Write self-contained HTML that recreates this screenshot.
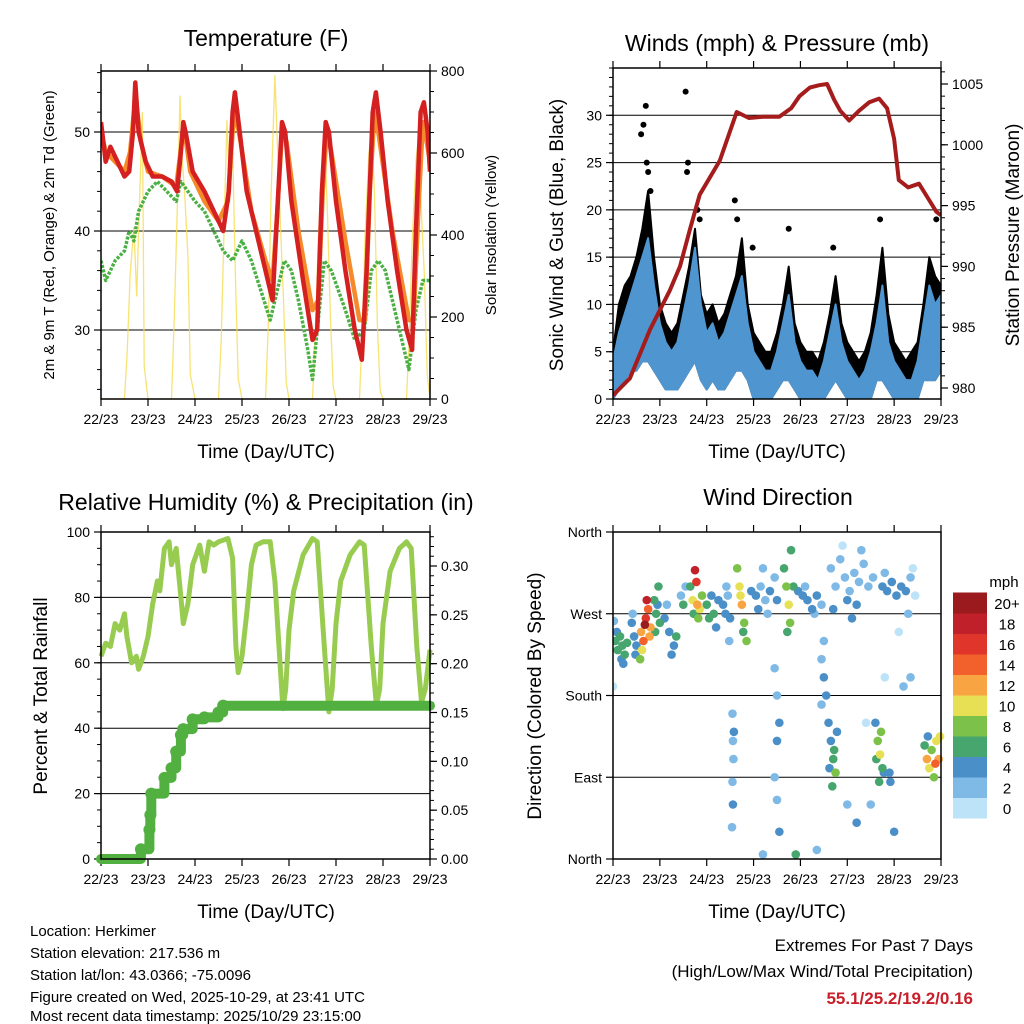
<!DOCTYPE html>
<html><head><meta charset="utf-8"><style>
html,body{margin:0;padding:0;background:#fff;}
svg{display:block;font-family:"Liberation Sans",Arial,sans-serif;}
</style></head><body>
<svg id="chart" width="1024" height="1024" viewBox="0 0 1024 1024" xmlns="http://www.w3.org/2000/svg">
<rect width="1024" height="1024" fill="#fff"/>
<g id="layer"></g>
<text x="266" y="46" font-size="23" text-anchor="middle">Temperature (F)</text>
<text x="777" y="51" font-size="23" text-anchor="middle">Winds (mph) &amp; Pressure (mb)</text>
<text x="266" y="510" font-size="23" text-anchor="middle">Relative Humidity (%) &amp; Precipitation (in)</text>
<text x="778" y="505" font-size="23" text-anchor="middle">Wind Direction</text>
<text x="266" y="458" font-size="19" text-anchor="middle">Time (Day/UTC)</text>
<text x="777" y="458" font-size="19" text-anchor="middle">Time (Day/UTC)</text>
<text x="266" y="918" font-size="19" text-anchor="middle">Time (Day/UTC)</text>
<text x="777" y="918" font-size="19" text-anchor="middle">Time (Day/UTC)</text>
<text transform="translate(54,235) rotate(-90)" font-size="15" text-anchor="middle">2m &amp; 9m T (Red, Orange) &amp; 2m Td (Green)</text>
<text transform="translate(496,235) rotate(-90)" font-size="15" text-anchor="middle">Solar Insolation (Yellow)</text>
<text transform="translate(563,235) rotate(-90)" font-size="19" text-anchor="middle">Sonic Wind &amp; Gust (Blue, Black)</text>
<text transform="translate(1019,235) rotate(-90)" font-size="19" text-anchor="middle">Station Pressure (Maroon)</text>
<text transform="translate(47,696) rotate(-90)" font-size="19" text-anchor="middle">Percent &amp; Total Rainfall</text>
<text transform="translate(541,696) rotate(-90)" font-size="19" text-anchor="middle">Direction (Colored By Speed)</text>
<g font-size="15">
<text x="30" y="936">Location: Herkimer</text>
<text x="30" y="958">Station elevation: 217.536 m</text>
<text x="30" y="980">Station lat/lon: 43.0366; -75.0096</text>
<text x="30" y="1002">Figure created on Wed, 2025-10-29, at 23:41 UTC</text>
<text x="30" y="1024" dy="-3">Most recent data timestamp: 2025/10/29 23:15:00</text>
</g>
<g font-size="17" text-anchor="end">
<text x="973" y="951">Extremes For Past 7 Days</text>
<text x="973" y="977">(High/Low/Max Wind/Total Precipitation)</text>
<text x="973" y="1004" fill="#c8202a" font-weight="bold">55.1/25.2/19.2/0.16</text>
</g>
<text x="1004" y="587" font-size="15" text-anchor="middle">mph</text>
</svg>
<script>
const dayLabels=["22/23","23/23","24/23","25/23","26/23","27/23","28/23","29/23"];
const tempTicks=[30,40,50];
const solarTicks=[0,200,400,600,800];
const windTicks=[0,5,10,15,20,25,30];
const presTicks=[980,985,990,995,1000,1005];
const rhTicks=[0,20,40,60,80,100];
const precipTicks=["0.00","0.05","0.10","0.15","0.20","0.25","0.30"];
const dirLabels=["North","East","South","West","North"];
const speedBins=["0","2","4","6","8","10","12","14","16","18","20+"];
const speedColors=["#bce3f7","#7fb9e5","#4a8fc7","#47a56e","#7cc24a","#e7e055","#f9a443","#f2612b","#e0352b","#c0202a","#9a1a1e"];

const t2mT=[0,0.1,0.2,0.35,0.5,0.6,0.68,0.73,0.8,0.95,1.1,1.3,1.5,1.62,1.7,1.75,1.8,1.95,2.2,2.4,2.6,2.72,2.8,2.85,2.95,3.1,3.3,3.5,3.65,3.75,3.85,3.92,4.05,4.3,4.5,4.6,4.7,4.78,4.85,5.0,5.2,5.4,5.55,5.65,5.78,5.85,5.95,6.1,6.3,6.5,6.62,6.7,6.8,6.87,6.95,7];
const t2mV=[51,47,48.5,47,45.5,46,50,55,50,47,45.5,45.5,45,44,48,51,50,46,44,42,40,44,52,54,50,44,40,36,33,42,51,50,43,35,29,30,44,51,50,43,36,30,27,36,52,54,50,43,36,30,28,40,52,53,50,46];
const t9mT=[0,0.1,0.3,0.5,0.62,0.7,0.75,0.85,1.0,1.3,1.6,1.72,1.78,1.9,2.2,2.5,2.7,2.8,2.86,2.97,3.2,3.5,3.65,3.75,3.85,3.95,4.2,4.5,4.62,4.72,4.8,4.9,5.2,5.5,5.62,5.72,5.82,5.9,6.2,6.55,6.65,6.75,6.85,6.93,7];
const t9mV=[50,48,47,46,48,52,53,49,46,45.5,44.5,49,50,46,43,41,43,50,52,49,42,37,35,42,50,49,40,32,33,44,50,48,39,31,31,44,52,50,40,31,31,42,51,49,47];
const tdT=[0,0.1,0.3,0.5,0.6,0.7,0.8,1.0,1.2,1.4,1.6,1.7,1.85,2.0,2.2,2.4,2.6,2.8,3.0,3.2,3.4,3.6,3.8,3.9,4.05,4.2,4.4,4.5,4.6,4.75,4.9,5.05,5.2,5.4,5.6,5.75,5.9,6.05,6.2,6.4,6.55,6.7,6.85,7];
const tdV=[37,35,37,38,40,39,42,44,45,44,43,45,44,43,42,40,38,37,39,37,34,31,35,37,36,33,28,25,30,37,36,34,32,29,30,36,37,36,33,29,26,32,35,35];
const solarT=[0,0.5,0.56,0.62,0.7,0.76,0.82,0.88,0.92,1.0,1.5,1.56,1.62,1.68,1.72,1.78,1.85,1.9,2.0,2.5,2.56,2.62,2.68,2.74,2.8,2.86,2.92,3.0,3.5,3.56,3.62,3.7,3.76,3.82,3.88,3.94,4.0,4.5,4.56,4.62,4.7,4.76,4.82,4.88,4.94,5.0,5.5,5.56,5.62,5.7,5.76,5.82,5.88,5.94,6.0,6.5,6.56,6.62,6.7,6.76,6.82,6.88,6.94,7.0];
const solarV=[0,0,120,300,420,250,480,700,80,0,0,200,450,740,600,500,350,60,0,0,150,420,680,500,620,300,50,0,0,180,500,790,600,420,250,40,0,0,160,380,560,640,450,200,30,0,0,170,400,600,650,500,180,20,0,0,150,380,580,640,450,300,60,0];
const presT=[0,0.36,0.79,1.21,1.43,1.64,1.85,2.28,2.64,2.9,3.2,3.55,3.8,3.98,4.2,4.4,4.57,4.72,4.85,5.04,5.25,5.47,5.68,5.85,6.0,6.1,6.3,6.53,6.74,6.9,7.0];
const presV=[979.4,980.8,984.8,988,990,993,995.9,998.7,1002.7,1002.2,1002.3,1002.3,1003,1004,1004.7,1004.9,1005,1003.7,1002.8,1002,1002.8,1003.5,1003.8,1003,1000.5,997.1,996.5,996.8,995.5,994.5,994.2];
const windMax=[4,7,9,11,13,15,17,12,8,6,5,6,9,12,16,10,7,8,6,7,9,11,13,8,5,4,3,3,5,8,11,6,4,3,3,2,4,7,10,6,4,3,2,3,5,8,12,6,4,3,2,2,4,8,12,10,11];
const windMin=[0,1,2,3,3,4,4,3,2,1,1,1,2,3,4,2,1,2,1,1,2,3,3,2,0,0,0,0,1,2,2,1,0,0,0,0,0,1,2,1,0,0,0,0,0,2,2,1,0,0,0,0,0,2,2,2,3];
const gustMax=[5,10,12,13,15,18,22,15,10,8,7,8,11,14,18,11,9,10,8,9,11,13,17,10,7,6,5,5,7,10,14,8,6,5,5,4,6,9,13,8,6,5,4,5,7,11,16,9,6,5,4,5,6,10,15,13,12];
const gustOutT=[0.6,0.65,0.7,0.72,1.55,1.58,1.6,1.8,2.6,2.65,2.98,3.75,4.7,5.7,6.9,0.8,1.85,0.75];
const gustOutV=[28,29,31,25,32.5,24,25,20,21,19,16,18,16,19,19,22,19,24];
const rhT=[0,0.1,0.2,0.3,0.4,0.5,0.55,0.65,0.75,0.8,0.9,1.0,1.1,1.2,1.25,1.35,1.45,1.5,1.6,1.7,1.75,1.85,1.95,2.1,2.2,2.3,2.4,2.5,2.7,2.8,2.87,2.92,3.0,3.1,3.2,3.3,3.45,3.6,3.7,3.8,3.87,3.93,4.0,4.1,4.3,4.5,4.6,4.75,4.85,4.92,5.0,5.1,5.3,5.5,5.6,5.75,5.86,5.93,6.0,6.15,6.35,6.5,6.6,6.72,6.82,6.9,7.0];
const rhV=[62,66,65,72,70,75,68,60,62,58,62,68,78,85,82,95,97,90,95,80,72,78,90,96,88,97,96,97,98,92,65,57,62,75,90,96,97,97,85,62,46,52,70,82,93,98,97,65,45,52,72,85,93,97,96,65,47,52,72,88,95,97,95,65,48,52,64];
const precipT=[0,0.8,0.85,1.0,1.03,1.05,1.07,1.3,1.35,1.5,1.6,1.7,1.75,1.95,2.2,2.5,2.6,7];
const precipV=[0,0,0.01,0.01,0.03,0.045,0.067,0.067,0.083,0.093,0.11,0.127,0.133,0.143,0.145,0.15,0.157,0.157];
const dirPts=[[0.05,240,6],[0.1,230,6],[0.15,245,6],[0.2,235,6],[0.25,225,6],[0.08,250,4],[0.18,220,4],[0.3,238,6],[0.02,262,2],[0.22,215,4],
[0.4,260,4],[0.45,245,4],[0.5,235,4],[0.42,270,2],[0.48,225,4],
[0.6,250,12],[0.65,240,14],[0.7,265,16],[0.75,275,14],[0.8,255,12],[0.62,230,10],[0.72,285,18],[0.68,258,20],[0.78,245,12],[0.58,220,8],
[0.88,285,6],[0.92,270,6],[0.97,300,6],[1.0,260,6],[0.95,280,4],[0.9,250,6],
[1.1,265,4],[1.2,250,4],[1.3,235,4],[1.25,225,4],[1.15,280,2],[1.35,245,6],
[1.45,290,2],[1.5,280,6],[1.55,300,2],
[1.65,300,6],[1.7,285,10],[1.75,318,18],[1.78,305,16],[1.8,280,12],[1.85,275,10],[1.9,290,8],[1.72,270,6],[1.82,265,8],
[2.0,280,6],[2.05,265,6],[2.1,290,4],[2.15,270,6],[2.2,255,4],[2.25,285,4],
[2.35,280,4],[2.4,270,4],[2.45,290,2],[2.5,265,4],[2.48,240,2],[2.42,300,2],
[2.65,320,8],[2.7,300,10],[2.75,280,12],[2.8,260,8],[2.85,240,8],[2.72,290,10],[2.78,250,6],
[2.95,295,4],[3.05,290,4],[3.15,300,2],[3.25,285,2],[3.35,295,4],[3.45,310,2],[3.1,275,4],[3.3,270,2],[3.5,285,4],[3.2,320,2],
[3.65,320,6],[3.7,300,8],[3.75,280,10],[3.8,340,6],[3.78,260,8],[3.72,250,6],[3.85,300,6],
[3.95,295,4],[4.05,290,4],[4.15,285,4],[4.25,275,4],[4.35,290,4],[4.1,300,2],[4.3,270,2],[4.45,280,2],
[2.55,160,2],[2.56,130,2],[2.57,110,2],[2.55,85,2],[2.56,60,4],[2.54,35,2],[2.58,140,4],
[3.45,210,2],[3.5,180,2],[3.55,150,4],[3.5,130,4],[3.45,90,2],[3.5,65,2],[3.55,30,4],
[4.45,220,2],[4.5,200,4],[4.55,180,4],[4.5,240,2],[4.45,170,2],
[4.6,150,4],[4.65,130,4],[4.7,110,6],[4.75,95,8],[4.68,80,6],[4.72,120,6],[4.62,100,4],[4.78,140,4],
[5.6,150,4],[5.65,130,8],[5.7,115,10],[5.75,100,6],[5.68,85,6],[5.72,140,8],[5.62,110,6],[5.78,95,4],[5.9,95,4],[5.92,85,4],
[6.65,125,6],[6.7,110,12],[6.75,100,10],[6.8,120,8],[6.85,90,8],[6.9,130,10],[6.95,110,12],[6.98,135,10],[6.72,135,4],[6.88,105,14],
[4.65,320,2],[4.75,300,2],[4.85,330,2],[4.95,310,2],[5.05,295,2],[5.15,315,2],[5.25,305,2],[5.35,325,2],[5.45,300,2],[5.55,310,2],[5.0,285,4],[5.2,280,4],[4.9,345,0],[5.3,340,2],[4.7,275,4],[5.1,265,4],
[5.75,300,4],[5.85,295,4],[5.95,305,4],[6.05,290,4],[6.15,300,4],[6.25,295,4],[6.35,310,2],[6.4,320,0],[6.45,290,0],[6.3,270,2],[6.1,250,0],[5.8,315,2],
[5.4,150,0],[5.8,200,0],[6.2,190,2],[5.0,60,2],[5.2,40,4],[6.35,200,2],[6.0,30,4],[5.5,60,2],[3.9,5,6],[3.2,5,2],[4.35,10,2],[0.0,190,0]];

const NS='http://www.w3.org/2000/svg';
const layer=document.getElementById('layer');
function mk(tag,attrs,parent){const e=document.createElementNS(NS,tag);for(const k in attrs)e.setAttribute(k,attrs[k]);(parent||layer).appendChild(e);return e;}
function lin(d0,d1,r0,r1){return v=>r0+(v-d0)/(d1-d0)*(r1-r0);}
function path(xs,ys,fx,fy){return xs.map((t,i)=>(i?'L':'M')+fx(t).toFixed(1)+' '+fy(ys[i]).toFixed(1)).join(' ');}

const P1={x0:101,x1:430,y0:71,y1:399};
const P2={x0:613,x1:941,y0:68,y1:399};
const P3={x0:101,x1:430,y0:532,y1:859};
const P4={x0:613,x1:941,y0:532,y1:859};

function frameAndX(P,name){
  const fx=lin(0,7,P.x0,P.x1);
  dayLabels.forEach((l,i)=>{
    const x=fx(i);
    const t=mk('line',{x1:x,x2:x,y1:P.y1,y2:P.y1+7,stroke:'#000','stroke-width':1.2});
    
    mk('line',{x1:x,x2:x,y1:P.y0,y2:P.y0-7,stroke:'#000','stroke-width':1.2});
    const tx=mk('text',{x:x,y:P.y1+25,'font-size':14,'text-anchor':'middle'});tx.textContent=l;
    
  });
  return fx;
}
function border(P,name){
  const r=mk('rect',{x:P.x0,y:P.y0,width:P.x1-P.x0,height:P.y1-P.y0,fill:'none',stroke:'#000','stroke-width':1.5});
  
}
function yTicks(P,vals,labels,fy,side,name,grid){
  vals.forEach((v,i)=>{
    const y=fy(v);
    if(grid&&y>P.y0+2&&y<P.y1-2){const g=mk('line',{x1:P.x0,x2:P.x1,y1:y,y2:y,stroke:'#000','stroke-width':1});}
    const x=side==='l'?P.x0:P.x1, d=side==='l'?-7:7;
    mk('line',{x1:x,x2:x+d,y1:y,y2:y,stroke:'#000','stroke-width':1.2});
    const t=mk('text',{x:x+(side==='l'?-11:11),y:y+5,'font-size':14,'text-anchor':side==='l'?'end':'start'});
    t.textContent=labels[i];
    
  });
}
function minor(P,from,to,step,fy,side){
  for(let v=from;v<=to+1e-9;v+=step){const y=fy(v);if(y<P.y0-0.5||y>P.y1+0.5)continue;const x=side==='l'?P.x0:P.x1;mk('line',{x1:x,x2:x+(side==='l'?-4:4),y1:y,y2:y,stroke:'#000','stroke-width':1});}
}

// Panel 1 temperature
{
  const fx=frameAndX(P1,'temp');
  const fy=lin(30,40,330,231);
  const fs=lin(0,800,399,71);
  yTicks(P1,tempTicks,tempTicks,fy,'l','temp-y',true);
  yTicks(P1,solarTicks,solarTicks,fs,'r','solar-y',false);
  minor(P1,24,56,2,fy,'l');minor(P1,0,800,50,fs,'r');
  const cp=mk('clipPath',{id:'c1'});mk('rect',{x:P1.x0,y:P1.y0,width:P1.x1-P1.x0,height:P1.y1-P1.y0},cp);
  const g=mk('g',{'clip-path':'url(#c1)'});
  let e=mk('path',{d:path(solarT,solarV,fx,fs),fill:'none',stroke:'#f5dc50','stroke-width':1.3,opacity:0.8},g);
  
  e=mk('path',{d:path(tdT,tdV,fx,fy),fill:'none',stroke:'#4bb044','stroke-width':3.5,'stroke-dasharray':'3 1.5','stroke-linejoin':'round'},g);
  
  e=mk('path',{d:path(t9mT,t9mV,fx,fy),fill:'none',stroke:'#f58a2a','stroke-width':4.5,'stroke-linejoin':'round'},g);
  
  e=mk('path',{d:path(t2mT,t2mV,fx,fy),fill:'none',stroke:'#d42020','stroke-width':4.5,'stroke-linejoin':'round'},g);
  
  border(P1,'temp');
}
// Panel 2 winds
{
  const fx=frameAndX(P2,'winds');
  const fy=lin(0,35,399,68);
  const fp=lin(980,1005,388,84);
  yTicks(P2,windTicks,windTicks,fy,'l','wind-y',true);
  yTicks(P2,presTicks,presTicks,fp,'r','pressure-y',false);
  minor(P2,0,35,1,fy,'l');minor(P2,979,1006,1,fp,'r');
  const cp=mk('clipPath',{id:'c2'});mk('rect',{x:P2.x0,y:P2.y0,width:P2.x1-P2.x0,height:P2.y1-P2.y0},cp);
  const g=mk('g',{'clip-path':'url(#c2)'});
  const ts=windMax.map((_,i)=>i/8);
  const band=(hi,lo)=>ts.map((t,i)=>(i?'L':'M')+fx(t).toFixed(1)+' '+fy(hi[i]).toFixed(1)).join(' ')+' '+ts.slice().reverse().map((t,j)=>'L'+fx(t).toFixed(1)+' '+fy(lo[ts.length-1-j]).toFixed(1)).join(' ')+'Z';
  let e=mk('path',{d:band(gustMax,windMin),fill:'#000',stroke:'#000','stroke-width':2,'stroke-linejoin':'round'},g);
  
  gustOutT.forEach((t,i)=>{const c=mk('circle',{cx:fx(t),cy:fy(gustOutV[i]),r:3,fill:'#000'},g);});
  e=mk('path',{d:band(windMax,windMin),fill:'#4f95d0',stroke:'#4f95d0','stroke-width':2,'stroke-linejoin':'round'},g);
  
  e=mk('path',{d:path(presT,presV,fx,fp),fill:'none',stroke:'#a51c1c','stroke-width':4,'stroke-linejoin':'round'},g);
  
  border(P2,'winds');
}
// Panel 3 RH
{
  const fx=frameAndX(P3,'rh');
  const fy=lin(0,100,859,532);
  const fr=lin(0,0.3,859,566);
  yTicks(P3,rhTicks,rhTicks,fy,'l','rh-y',true);
  yTicks(P3,precipTicks.map(Number),precipTicks,fr,'r','precip-y',false);
  minor(P3,0,100,5,fy,'l');minor(P3,0,0.33,0.01,fr,'r');
  const cp=mk('clipPath',{id:'c3'});mk('rect',{x:P3.x0-6,y:P3.y0,width:P3.x1-P3.x0+12,height:P3.y1-P3.y0+6},cp);
  const g=mk('g',{'clip-path':'url(#c3)'});
  let e=mk('path',{d:path(rhT,rhV,fx,fy),fill:'none',stroke:'#98cc50','stroke-width':5,'stroke-linejoin':'round'},g);
  
  let d='';precipT.forEach((t,i)=>{d+=(i?'L'+fx(t).toFixed(1)+' '+fr(precipV[i-1]).toFixed(1)+' L':'M')+fx(t).toFixed(1)+' '+fr(precipV[i]).toFixed(1)+' ';});
  e=mk('path',{d:d,fill:'none',stroke:'#52b040','stroke-width':10,'stroke-linecap':'round','stroke-linejoin':'round'},g);
  
  precipT.forEach((t,i)=>{if(i>0&&precipV[i]!==precipV[i-1]){const c=mk('circle',{cx:fx(t),cy:fr(precipV[i]),r:6,fill:'#52b040'},g);}});
  border(P3,'rh');
}
// Panel 4 wind direction
{
  const fx=frameAndX(P4,'dir');
  const fy=lin(0,360,859,532);
  yTicks(P4,[0,90,180,270,360],dirLabels,fy,'l','dir-y',true);
  const cp=mk('clipPath',{id:'c4'});mk('rect',{x:P4.x0,y:P4.y0-4,width:P4.x1-P4.x0+4,height:P4.y1-P4.y0+8},cp);
  const g=mk('g',{'clip-path':'url(#c4)'});
  dirPts.slice().sort((a,b)=>a[2]-b[2]).forEach(p=>{
    const idx=Math.min(10,Math.floor(p[2]/2));
    const c=mk('circle',{cx:fx(p[0]),cy:fy(p[1]),r:4.3,fill:speedColors[idx]},g);
    
    
  });
  border(P4,'dir');
  const bh=20.5;
  speedBins.forEach((l,i)=>{
    const y=818-(i+1)*bh;
    const r=mk('rect',{x:953,y:y,width:34,height:bh+0.5,fill:speedColors[i]});
    
    const t=mk('text',{x:1007,y:y+bh/2+6,'font-size':15,'text-anchor':'middle'});t.textContent=l;
    
  });
}
</script>
</body></html>
